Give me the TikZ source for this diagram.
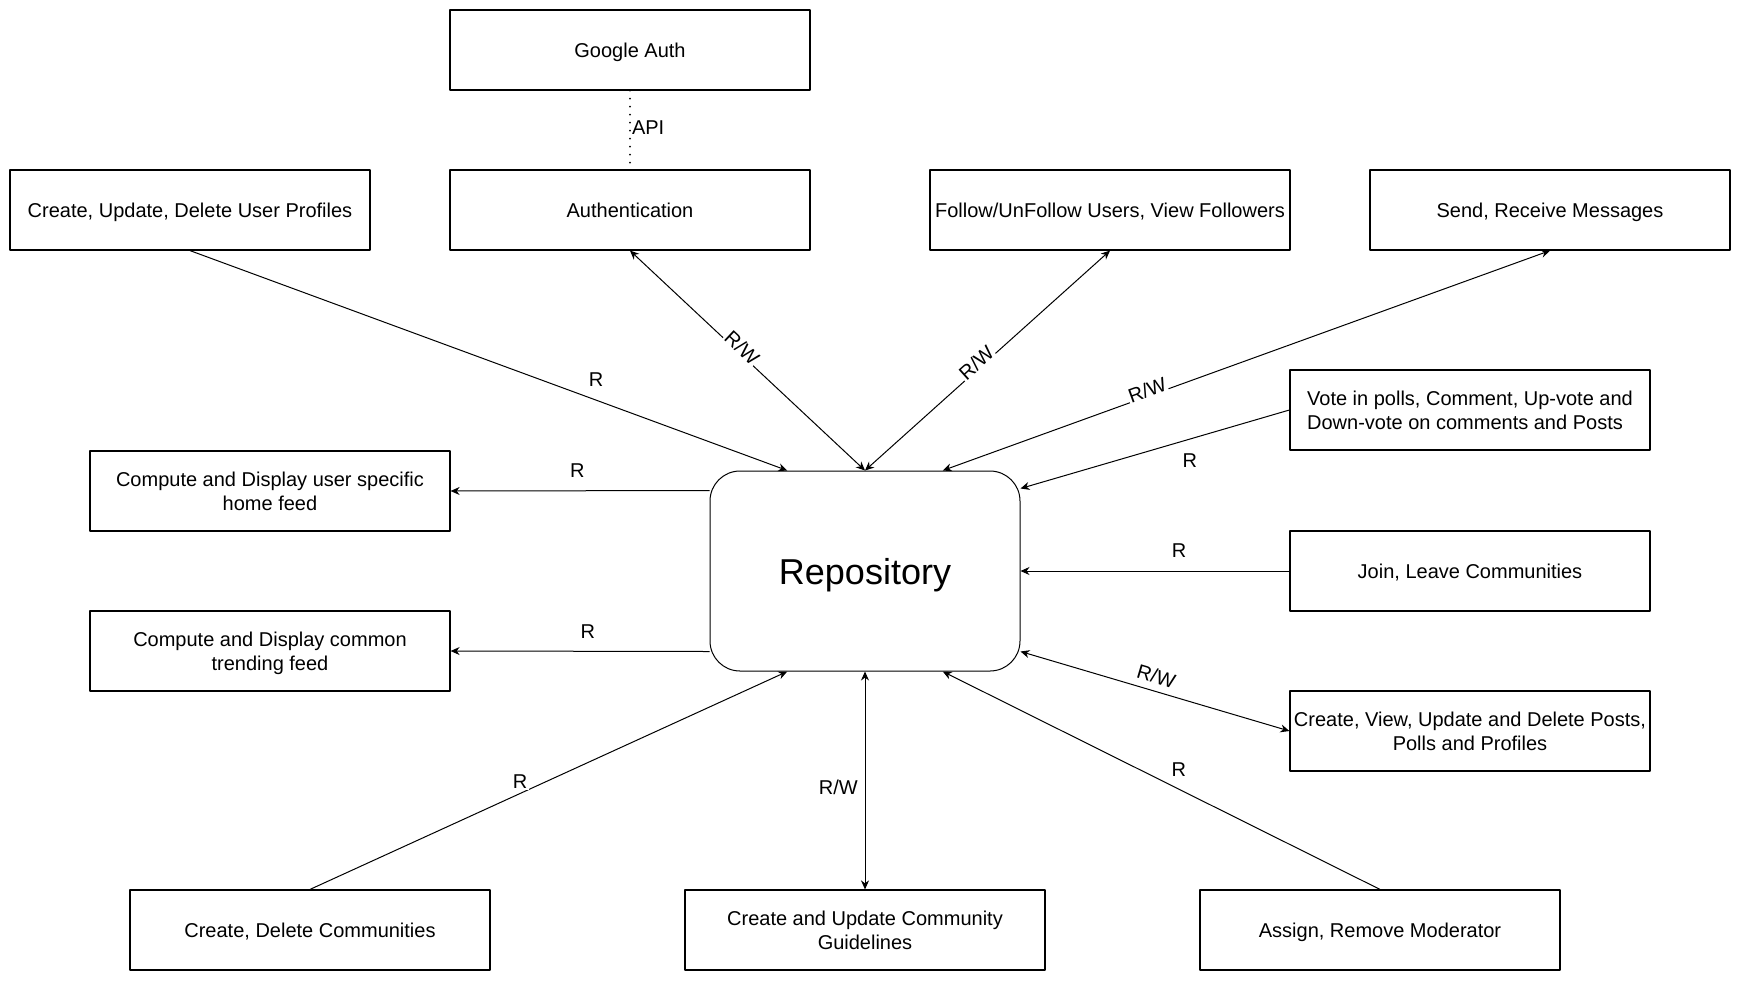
\documentclass[tikz,border=0pt]{standalone}
\usepackage{fontspec}
\setmainfont{Liberation Sans}
\usetikzlibrary{arrows.meta,calc}
\begin{document}
\begin{tikzpicture}[x=.5pt,y=-.5pt,>={Stealth[length=4.5pt,width=4pt]},line join=round,font=\fontsize{10}{12.2}\selectfont,
	box/.style={draw,line width=.6pt,minimum width=180pt,minimum height=40pt,inner sep=1pt,text depth=0pt,align=center},
	con/.style={line width=.5pt},
	lab/.style={fill=white,inner sep=.5pt,sloped}]
	\useasboundingbox (0,0) rectangle (1741,981);
	\node[box] (G) at (630,50) {Google Auth};
	\node[box] (A) at (630,210) {Authentication};
	\node[box] (U) at (190,210) {Create, Update, Delete User Profiles};
	\node[box] (F) at (1110,210) {Follow/UnFollow Users, View Followers};
	\node[box] (S) at (1550,210) {Send, Receive Messages};
	\node[box,align=left] (V) at (1470,410) {Vote in polls, Comment, Up-vote and\\Down-vote on comments and Posts};
	\node[box] (J) at (1470,571) {Join, Leave Communities};
	\node[box] (C) at (1470,731) {Create, View, Update and Delete Posts,\\Polls and Profiles};
	\node[box] (H) at (270,491) {Compute and Display user specific\\home feed};
	\node[box] (T) at (270,651) {Compute and Display common\\trending feed};
	\node[box] (D) at (310,930) {Create, Delete Communities};
	\node[box] (L) at (865,930) {Create and Update Community\\Guidelines};
	\node[box] (M) at (1380,930) {Assign, Remove Moderator};
	\node[draw,line width=.5pt,rounded corners=15pt,minimum width=155pt,minimum height=100pt,text depth=0pt,font=\fontsize{18}{20}\selectfont] (R) at (865,571) {Repository};
	\coordinate (R1) at ($(R.north west)!.25!(R.north east)$);
	\coordinate (R3) at ($(R.north west)!.75!(R.north east)$);
	\coordinate (B1) at ($(R.south west)!.25!(R.south east)$);
	\coordinate (B3) at ($(R.south west)!.75!(R.south east)$);
	\coordinate (RV) at ([yshift=-9pt]R.north east);
	\coordinate (RP) at ([yshift=10pt]R.south east);
	\coordinate (RH) at ([yshift=-10pt]R.north west);
	\coordinate (RT) at ([yshift=10pt]R.south west);
	\draw[line width=1pt,line cap=round,dash pattern=on 0pt off 4pt] (G.south) -- (A.north) node[pos=.475,right,inner sep=.5pt]{API};
	\draw[con,->] (U.south) -- (R1) node[pos=.68,above=3pt]{R};
	\draw[con,<->] (A.south) -- (R.north) node[lab,pos=.46,above=-1.5pt]{R/W};
	\draw[con,<->] (F.south) -- (R.north) node[lab,pos=.53,above=-1.5pt]{R/W};
	\draw[con,<->] (S.south) -- (R3) node[lab,pos=.66,above=-1.5pt]{R/W};
	\draw[con,->] (V.west) -- (RV) node[pos=.37,below=4pt]{R};
	\draw[con,->] (J.west) -- (R.east) node[pos=.41,above=3pt]{R};
	\draw[con,<->] (RP) -- (C.west) node[pos=.49,sloped,above]{R/W};
	\draw[con,->] (M.north) -- (B3) node[pos=.46,above=3pt]{R};
	\draw[con,<->] (L.north) -- (R.south) node[pos=.47,left]{R/W};
	\draw[con,->] (D.north) -- (B1) node[pos=.44,fill=white,inner sep=1pt,above=1.5pt]{R};
	\draw[con,->] (RH) -- (H.east) node[pos=.51,above=3pt]{R};
	\draw[con,->] (RT) -- (T.east) node[pos=.47,above=3pt]{R};
\end{tikzpicture}
\end{document}
